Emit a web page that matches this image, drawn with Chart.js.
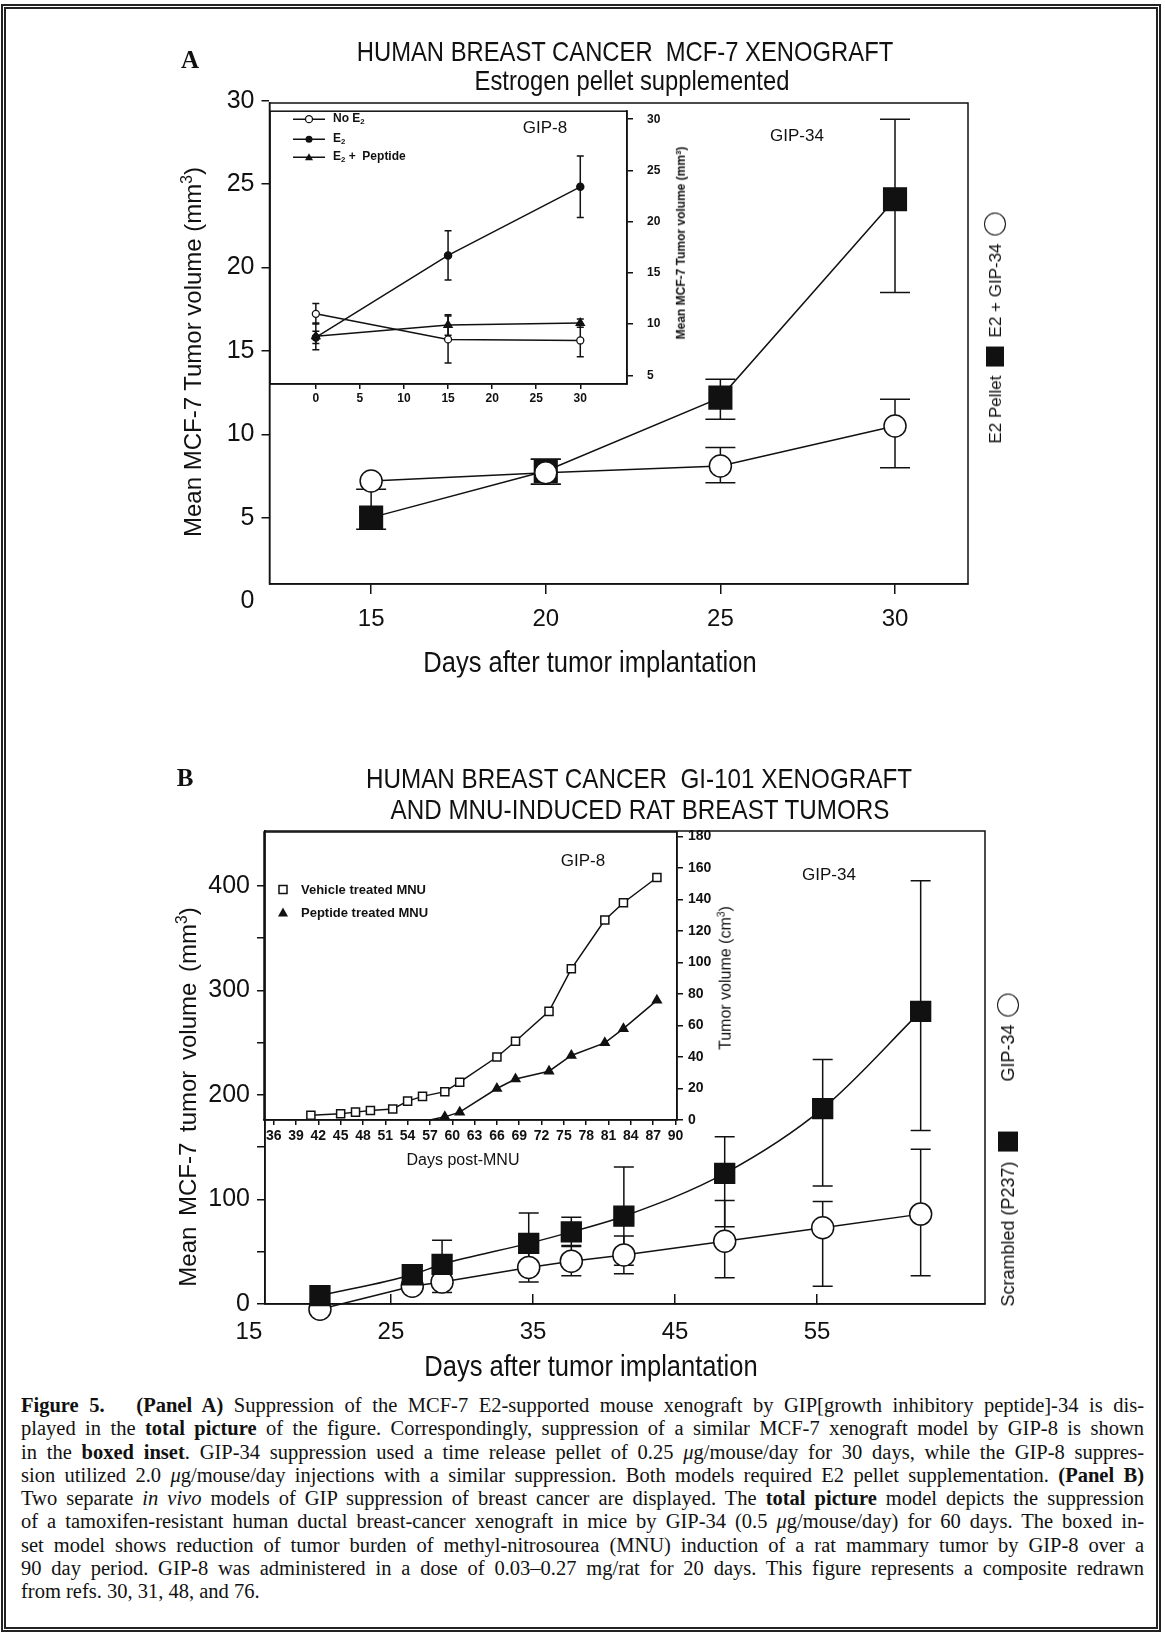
<!DOCTYPE html>
<html>
<head>
<meta charset="utf-8">
<script src="https://cdn.jsdelivr.net/npm/chart.js@4.4.1/dist/chart.umd.min.js"></script>
<style>
  html, body { margin: 0; padding: 0; background: #fff; }
  body { width: 1165px; height: 1634px; position: relative; overflow: hidden;
         font-family: "Liberation Sans", Arial, sans-serif; color: #111; }
  canvas { position: absolute; }
  .frame { position: absolute; left: 1px; top: 4px; width: 1160px; height: 1628px;
           box-sizing: border-box; border: 5px double #222; }
  .t { position: absolute; white-space: nowrap; line-height: 1; color: #111; transform: translate(-50%, -50%); }
  .n { transform: translate(-50%, -50%) scaleX(0.85); }
  .r { transform: translate(-50%, -50%) rotate(-90deg); }
  .serif { font-family: "Liberation Serif", "Times New Roman", serif; font-weight: bold; }
  .lg { position: absolute; transform: translateY(-50%); display: flex; align-items: center;
        white-space: nowrap; font-weight: bold; line-height: 1; }
  sub { font-size: 0.65em; vertical-align: -0.25em; }
  sup { font-size: 0.65em; vertical-align: 0.55em; }
  .side { display: flex; align-items: center; }
  .sq { display: inline-block; background: #111; }
  .ci { display: inline-block; border: 1.5px solid #111; border-radius: 50%; box-sizing: border-box; }
  .cap { position: absolute; left: 21px; top: 1394px; width: 1123px;
         font-family: "Liberation Serif", "Times New Roman", serif; font-size: 20.5px; line-height: 23.3px; }
  .ln { text-align: justify; text-align-last: justify; }
  .ln.last { text-align: left; text-align-last: left; }
</style>
</head>
<body>
<div class="frame"></div>

<canvas id="cA" width="860" height="600" style="left:150px;top:60px"></canvas>
<canvas id="cAi" width="445" height="330" style="left:262px;top:90px"></canvas>
<canvas id="cB" width="870" height="600" style="left:140px;top:790px"></canvas>
<canvas id="cBi" width="500" height="340" style="left:250px;top:815px"></canvas>

<!-- Panel A -->
<div class="t serif" style="left:190px;top:59px;font-size:25px">A</div>
<div class="t n" style="left:625px;top:52px;font-size:28px">HUMAN BREAST CANCER&nbsp; MCF-7 XENOGRAFT</div>
<div class="t n" style="left:632px;top:81px;font-size:28px">Estrogen pellet supplemented</div>
<div class="t r" style="left:192px;top:352px;font-size:24px">Mean MCF-7 Tumor volume (mm<sup>3</sup>)</div>
<div class="t" style="left:590px;top:662px;font-size:29px;transform:translate(-50%,-50%) scaleX(0.88)">Days after tumor implantation</div>
<div class="t" style="left:797px;top:135px;font-size:17px">GIP-34</div>
<div class="t" style="left:545px;top:127px;font-size:17px">GIP-8</div>
<div class="t r" style="left:681px;top:243px;font-size:12px;font-weight:bold">Mean MCF-7 Tumor volume (mm<sup>3</sup>)</div>

<div class="lg" style="left:293px;top:119px;font-size:12px">
  <svg width="32" height="12"><line x1="0" y1="6" x2="32" y2="6" stroke="#111" stroke-width="1.5"/><circle cx="16" cy="6" r="3.5" fill="#fff" stroke="#111" stroke-width="1.3"/></svg>
  <span style="margin-left:8px">No E<sub>2</sub></span>
</div>
<div class="lg" style="left:293px;top:139px;font-size:12px">
  <svg width="32" height="12"><line x1="0" y1="6" x2="32" y2="6" stroke="#111" stroke-width="1.5"/><circle cx="16" cy="6" r="3.5" fill="#111"/></svg>
  <span style="margin-left:8px">E<sub>2</sub></span>
</div>
<div class="lg" style="left:293px;top:157px;font-size:12px">
  <svg width="32" height="12"><line x1="0" y1="6" x2="32" y2="6" stroke="#111" stroke-width="1.5"/><polygon points="16,2 20,9 12,9" fill="#111"/></svg>
  <span style="margin-left:8px">E<sub>2</sub> + &nbsp;Peptide</span>
</div>

<div class="t r side" style="left:995px;top:328px;font-size:17px">
  <span>E2 Pellet</span>
  <span class="sq" style="width:20px;height:18px;margin:0 9px"></span>
  <span>E2 + GIP-34</span>
  <span class="ci" style="width:23px;height:22px;margin-left:8px"></span>
</div>

<!-- Panel B -->
<div class="t serif" style="left:185px;top:777px;font-size:25px">B</div>
<div class="t n" style="left:639px;top:778px;font-size:28.5px">HUMAN BREAST CANCER&nbsp; GI-101 XENOGRAFT</div>
<div class="t n" style="left:640px;top:809px;font-size:28.5px">AND MNU-INDUCED RAT BREAST TUMORS</div>
<div class="t r" style="left:187px;top:1097px;font-size:24px;word-spacing:4px">Mean MCF-7 tumor volume (mm<sup>3</sup>)</div>
<div class="t" style="left:591px;top:1366px;font-size:29px;transform:translate(-50%,-50%) scaleX(0.88)">Days after tumor implantation</div>
<div class="t" style="left:829px;top:874px;font-size:17px">GIP-34</div>
<div class="t" style="left:583px;top:860px;font-size:17px">GIP-8</div>
<div class="t r" style="left:725px;top:978px;font-size:16px">Tumor volume (cm<sup>3</sup>)</div>
<div class="t" style="left:463px;top:1160px;font-size:16px">Days post-MNU</div>

<div class="lg" style="left:277px;top:889px;font-size:13px">
  <svg width="12" height="12"><rect x="2" y="2" width="8" height="8" fill="#fff" stroke="#111" stroke-width="1.5"/></svg>
  <span style="margin-left:12px">Vehicle treated MNU</span>
</div>
<div class="lg" style="left:277px;top:912px;font-size:13px">
  <svg width="12" height="12"><polygon points="6,1 11,10 1,10" fill="#111"/></svg>
  <span style="margin-left:12px">Peptide treated MNU</span>
</div>

<div class="t r side" style="left:1008px;top:1150px;font-size:18px">
  <span>Scrambled (P237)</span>
  <span class="sq" style="width:20px;height:20px;margin:0 50px 0 10px"></span>
  <span>GIP-34</span>
  <span class="ci" style="width:23px;height:22px;margin-left:8px"></span>
</div>

<div class="cap">
<div class="ln"><b>Figure 5.</b>&nbsp;&nbsp; <b>(Panel A)</b> Suppression of the MCF-7 E2-supported mouse xenograft by GIP[growth inhibitory peptide]-34 is dis-</div>
<div class="ln">played in the <b>total picture</b> of the figure. Correspondingly, suppression of a similar MCF-7 xenograft model by GIP-8 is shown</div>
<div class="ln">in the <b>boxed inset</b>. GIP-34 suppression used a time release pellet of 0.25 <i>μ</i>g/mouse/day for 30 days, while the GIP-8 suppres-</div>
<div class="ln">sion utilized 2.0 <i>μ</i>g/mouse/day injections with a similar suppression. Both models required E2 pellet supplementation. <b>(Panel B)</b></div>
<div class="ln">Two separate <i>in vivo</i> models of GIP suppression of breast cancer are displayed. The <b>total picture</b> model depicts the suppression</div>
<div class="ln">of a tamoxifen-resistant human ductal breast-cancer xenograft in mice by GIP-34 (0.5 <i>μ</i>g/mouse/day) for 60 days. The boxed in-</div>
<div class="ln">set model shows reduction of tumor burden of methyl-nitrosourea (MNU) induction of a rat mammary tumor by GIP-8 over a</div>
<div class="ln">90 day period. GIP-8 was administered in a dose of 0.03–0.27 mg/rat for 20 days. This figure represents a composite redrawn</div>
<div class="ln last">from refs. 30, 31, 48, and 76.</div>
</div>

<script>
// Panel A, total picture (GIP-34)
const aDays = [15, 20, 25, 30];
const aPellet = [5.0, 7.8, 12.2, 24.1];
const aPelletLow = [4.3, 7.0, 10.9, 18.5];
const aPelletHigh = [6.7, 8.5, 13.3, 28.9];
const aGip34 = [7.2, 7.7, 8.1, 10.5];
const aGip34Low = [null, 7.0, 7.1, 8.0];
const aGip34High = [null, 8.5, 9.2, 12.1];
const aXTicks = [15, 20, 25, 30];
const aYTicks = [0, 5, 10, 15, 20, 25, 30];

// Panel A, boxed inset (GIP-8)
const insDays = [0, 15, 30];
const insNoE2 = [11.0, 8.5, 8.4];
const insNoE2Sd = [1.0, 2.3, 1.6];
const insE2 = [8.7, 16.7, 23.4];
const insE2Sd = [0.6, 2.4, 3.0];
const insPep = [8.8, 9.9, 10.1];
const insPepSd = [1.3, 1.0, 0.4];
const insXTicks = [0, 5, 10, 15, 20, 25, 30];
const insYTicks = [5, 10, 15, 20, 25, 30];

// Panel B, total picture (GIP-34 vs scrambled)
const bDays = [20, 26.5, 28.6, 34.7, 37.7, 41.4, 48.5, 55.4, 62.3];
const bScrambled = [8, 28, 38, 58, 69, 84, 125, 187, 280];
const bScrLow = [null, null, 16, 30, 56, 37, 74, 113, 166];
const bScrHigh = [null, null, 61, 87, 83, 131, 160, 234, 405];
const bGip34 = [-5, 17, 21, 35, 41, 47, 60, 73, 86];
const bGipLow = [null, null, 11, 21, 27, 29, 25, 17, 27];
const bGipHigh = [null, null, 31, 49, 55, 65, 99, 98, 148];
const bXTicks = [15, 25, 35, 45, 55];
const bYTicks = [0, 50, 100, 150, 200, 250, 300, 350, 400];

// Panel B, boxed inset (MNU rat tumors)
const mnuVehDays = [41, 45, 47, 49, 52, 54, 56, 59, 61, 66, 68.5, 73, 76, 80.5, 83, 87.5];
const mnuVeh = [3, 4, 5, 6, 7, 12, 15, 18, 24, 40, 50, 69, 96, 127, 138, 154];
const mnuPepDays = [57, 59, 61, 66, 68.5, 73, 76, 80.5, 83, 87.5];
const mnuPep = [0, 2, 5, 20, 26, 31, 41, 49, 58, 76];
const mnuXTicks = [36, 39, 42, 45, 48, 51, 54, 57, 60, 63, 66, 69, 72, 75, 78, 81, 84, 87, 90];
const mnuYTicks = [0, 20, 40, 60, 80, 100, 120, 140, 160, 180];

const INK = '#111';
const NARROW = "'Liberation Sans Narrow', 'Liberation Sans', Arial, sans-serif";

Chart.defaults.font.family = "'Liberation Sans', Arial, sans-serif";
Chart.defaults.color = INK;
Chart.defaults.animation = false;
Chart.defaults.plugins.legend.display = false;
Chart.defaults.plugins.tooltip.enabled = false;

const pts = (xs, ys) => xs.map((x, i) => ({ x: x, y: ys[i] }));

// box round the plot area
const frame = {
  id: 'frame',
  afterDraw(chart) {
    const a = chart.chartArea, ctx = chart.ctx;
    ctx.save();
    ctx.strokeStyle = INK;
    ctx.lineWidth = 1.5;
    ctx.strokeRect(a.left, a.top, a.right - a.left, a.bottom - a.top);
    ctx.restore();
  }
};

// vertical error bars with caps, drawn under the markers
const errorBars = {
  id: 'errorBars',
  beforeDatasetsDraw(chart) {
    const ctx = chart.ctx, xs = chart.scales.x, ys = chart.scales.y;
    chart.data.datasets.forEach(ds => {
      if (!ds.errLow) return;
      const cap = ds.capWidth / 2;
      ctx.save();
      ctx.strokeStyle = INK;
      ctx.lineWidth = ds.errWidth || 1.5;
      ds.data.forEach((p, j) => {
        const lo = ds.errLow[j], hi = ds.errHigh[j];
        if (lo == null || hi == null) return;
        const x = xs.getPixelForValue(p.x);
        const y1 = ys.getPixelForValue(lo), y2 = ys.getPixelForValue(hi);
        ctx.beginPath();
        ctx.moveTo(x, y1); ctx.lineTo(x, y2);
        ctx.moveTo(x - cap, y1); ctx.lineTo(x + cap, y1);
        ctx.moveTo(x - cap, y2); ctx.lineTo(x + cap, y2);
        ctx.stroke();
      });
      ctx.restore();
    });
  }
};

function scale(o) {
  return {
    type: 'linear',
    position: o.pos,
    min: o.min,
    max: o.max,
    afterBuildTicks: s => { s.ticks = o.ticks.map(v => ({ value: v })); },
    afterFit: s => {
      if (o.w != null) s.width = o.w;
      if (o.h != null) s.height = o.h;
    },
    grid: {
      drawOnChartArea: false, drawTicks: true, tickLength: o.tl, lineWidth: 1.5,
      color: INK,
      // no tick mark for a label that sits below / left of the box
      tickColor: c => (c.tick && c.tick.value < o.min ? 'rgba(0,0,0,0)' : INK)
    },
    border: { display: true, color: INK, width: 1.5 },
    ticks: {
      color: INK, font: o.font, padding: o.pad, autoSkip: false,
      maxRotation: 0, minRotation: 0,
      callback: o.cb || (v => v)
    }
  };
}

function line(extra) {
  return Object.assign({
    borderColor: INK, borderWidth: 1.5, pointBorderColor: INK, pointBorderWidth: 1.5,
    pointHoverRadius: 0, tension: 0, clip: false
  }, extra);
}

function opts(padding, x, y) {
  return {
    responsive: false,
    devicePixelRatio: 1,
    events: [],
    layout: { padding: padding },
    scales: { x: x, y: y }
  };
}

// Panel A main
new Chart(document.getElementById('cA'), {
  type: 'line',
  data: {
    datasets: [
      line({ label: 'E2 + GIP-34', data: pts(aDays, aGip34), errLow: aGip34Low, errHigh: aGip34High, capWidth: 30,
             pointStyle: 'circle', pointRadius: 11, pointBackgroundColor: '#fff' }),
      line({ label: 'E2 Pellet', data: pts(aDays, aPellet), errLow: aPelletLow, errHigh: aPelletHigh, capWidth: 30,
             pointStyle: 'rect', pointRadius: 16, pointBackgroundColor: INK })
    ]
  },
  options: opts({ left: 0, top: 43, right: 42, bottom: 26 },
    scale({ pos: 'bottom', min: 12.09, max: 32.09, ticks: aXTicks, h: 50, tl: 10, pad: 11,
            font: { family: NARROW, size: 24 } }),
    scale({ pos: 'left', min: 1.02, max: 29.87, ticks: aYTicks, w: 119.5, tl: 8, pad: 7,
            font: { family: NARROW, size: 25 } })),
  plugins: [errorBars, frame]
});

// Panel A inset
const sdLow = (v, sd) => v.map((y, i) => y - sd[i]);
const sdHigh = (v, sd) => v.map((y, i) => y + sd[i]);
new Chart(document.getElementById('cAi'), {
  type: 'line',
  data: {
    datasets: [
      line({ label: 'No E2', data: pts(insDays, insNoE2), errLow: sdLow(insNoE2, insNoE2Sd), errHigh: sdHigh(insNoE2, insNoE2Sd),
             capWidth: 7, pointStyle: 'circle', pointRadius: 3.5, pointBorderWidth: 1.3, pointBackgroundColor: '#fff' }),
      line({ label: 'E2', data: pts(insDays, insE2), errLow: sdLow(insE2, insE2Sd), errHigh: sdHigh(insE2, insE2Sd),
             capWidth: 7, pointStyle: 'circle', pointRadius: 3.5, pointBackgroundColor: INK }),
      line({ label: 'E2 + Peptide', data: pts(insDays, insPep), errLow: sdLow(insPep, insPepSd), errHigh: sdHigh(insPep, insPepSd),
             capWidth: 7, pointStyle: 'triangle', pointRadius: 4.5, pointBackgroundColor: INK })
    ]
  },
  options: opts({ left: 8, top: 13, right: 35, bottom: 14 },
    scale({ pos: 'bottom', min: -5.2, max: 35.3, ticks: insXTicks, h: 22, tl: 5, pad: 2,
            font: { family: NARROW, size: 12, weight: 'bold' } }),
    scale({ pos: 'right', min: 4.15, max: 30.78, ticks: insYTicks, w: 45, tl: 6, pad: 14,
            font: { family: NARROW, size: 12, weight: 'bold' } })),
  plugins: [errorBars, frame]
});

// Panel B main
new Chart(document.getElementById('cB'), {
  type: 'line',
  data: {
    datasets: [
      line({ label: 'Scrambled (P237)', data: pts(bDays, bScrambled), errLow: bScrLow, errHigh: bScrHigh, capWidth: 20,
             pointStyle: 'rect', pointRadius: 14, pointBackgroundColor: INK, cubicInterpolationMode: 'monotone' }),
      line({ label: 'GIP-34', data: pts(bDays, bGip34), errLow: bGipLow, errHigh: bGipHigh, capWidth: 20,
             pointStyle: 'circle', pointRadius: 11, pointBackgroundColor: '#fff' })
    ]
  },
  options: opts({ left: 0, top: 41, right: 25, bottom: 36 },
    scale({ pos: 'bottom', min: 16.13, max: 66.83, ticks: bXTicks, h: 50, tl: -10, pad: 24,
            font: { family: NARROW, size: 24 } }),
    scale({ pos: 'left', min: 0, max: 452.6, ticks: bYTicks, w: 125, tl: 8, pad: 7,
            font: { family: NARROW, size: 25 }, cb: v => (v % 100 === 0 ? v : '') })),
  plugins: [errorBars, frame]
});

// Panel B inset
new Chart(document.getElementById('cBi'), {
  type: 'line',
  data: {
    datasets: [
      line({ label: 'Vehicle treated MNU', data: pts(mnuVehDays, mnuVeh),
             pointStyle: 'rect', pointRadius: 5.7, pointBackgroundColor: '#fff' }),
      line({ label: 'Peptide treated MNU', data: pts(mnuPepDays, mnuPep),
             pointStyle: 'triangle', pointRadius: mnuPep.map((v, i) => (i === 0 ? 0 : 5)), pointBackgroundColor: INK })
    ]
  },
  options: opts({ left: 14, top: 17, right: 28, bottom: 10 },
    scale({ pos: 'bottom', min: 34.7, max: 90.2, ticks: mnuXTicks, h: 25, tl: 5, pad: 3,
            font: { family: NARROW, size: 14, weight: 'bold' } }),
    scale({ pos: 'right', min: 0, max: 182.9, ticks: mnuYTicks, w: 45, tl: 6, pad: 5,
            font: { family: NARROW, size: 14, weight: 'bold' } })),
  plugins: [frame]
});
</script>
</body>
</html>
